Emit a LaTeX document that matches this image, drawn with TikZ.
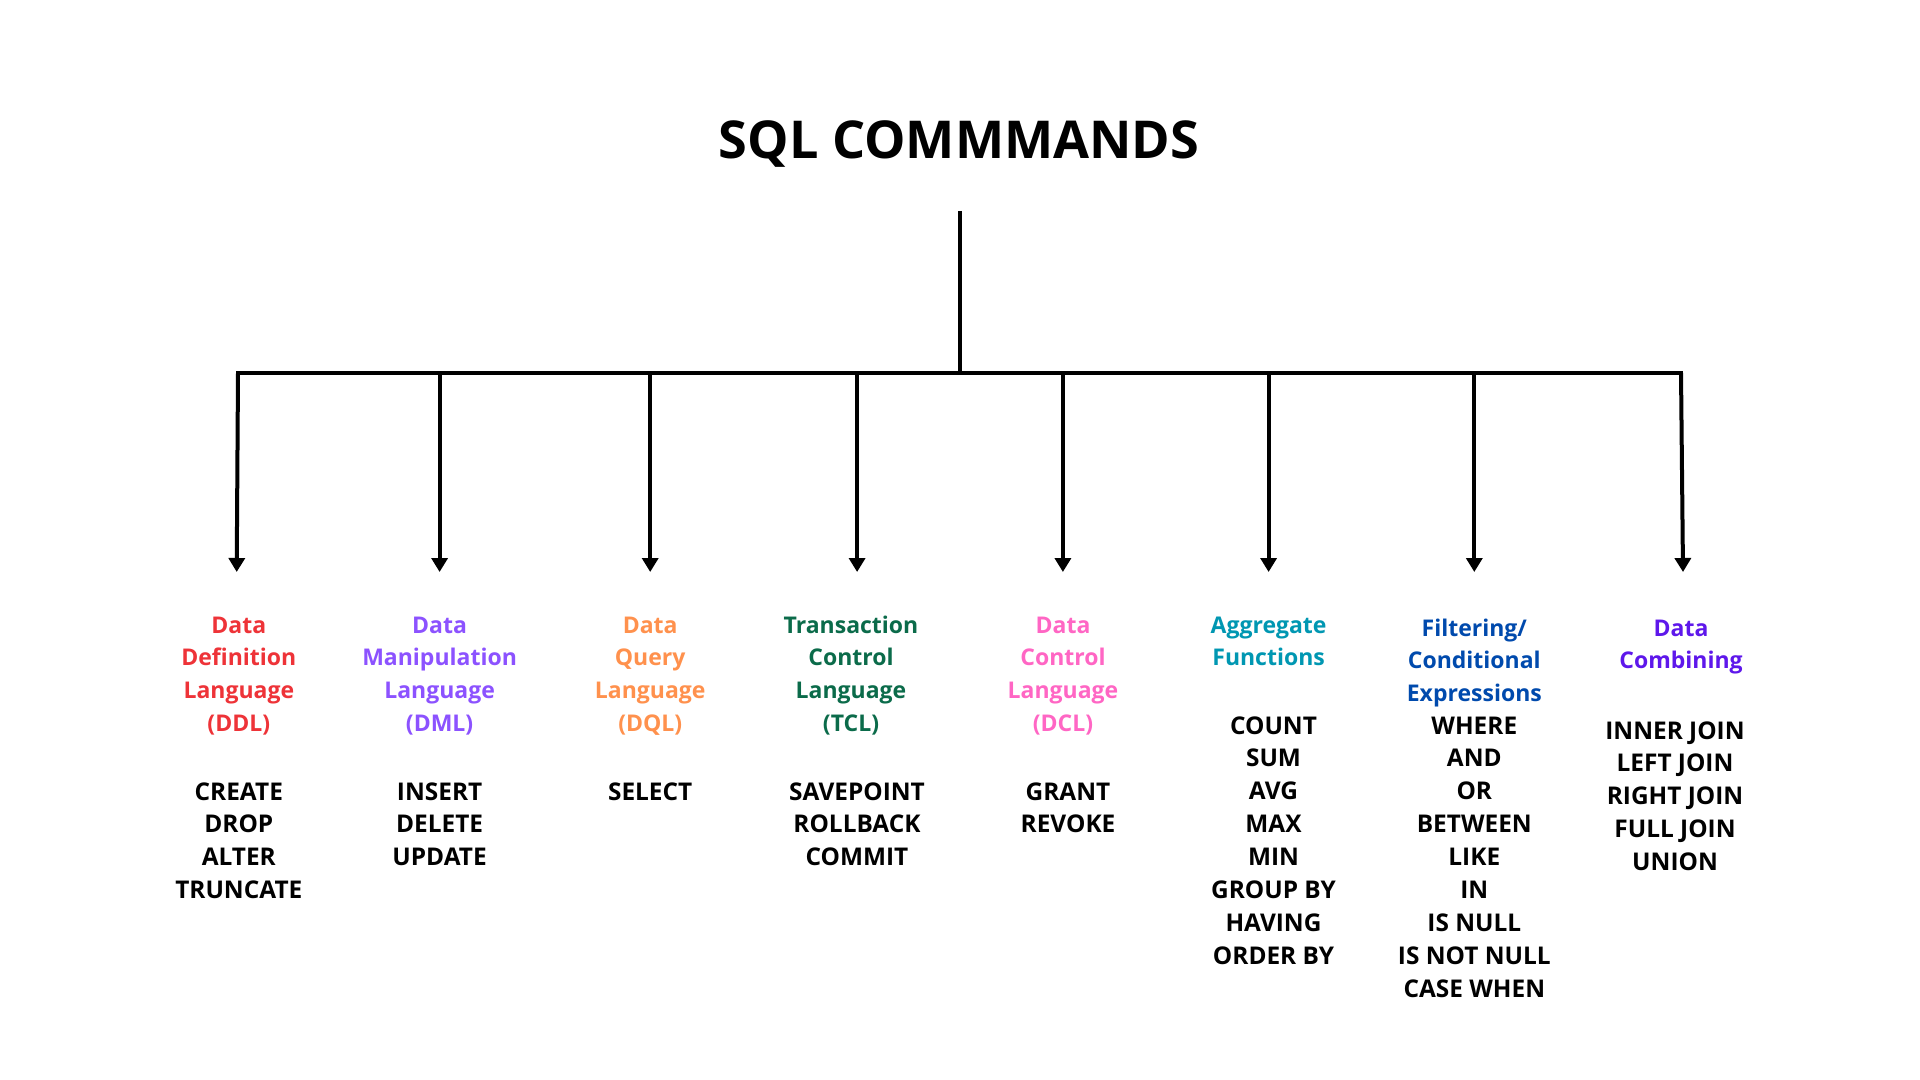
\documentclass[tikz,border=0pt]{standalone}
\usepackage{fontspec}
\setmainfont{Open Sans}
\usetikzlibrary{arrows.meta}
\definecolor{ddlc}{HTML}{EE3338}
\definecolor{dmlc}{HTML}{8C52FF}
\definecolor{dqlc}{HTML}{FF914D}
\definecolor{tclc}{HTML}{0B6B4A}
\definecolor{dclc}{HTML}{FF66C4}
\definecolor{aggc}{HTML}{0097B2}
\definecolor{filc}{HTML}{004AAD}
\definecolor{cmbc}{HTML}{5E17EB}
\tikzset{
  wire/.style={line width=2pt, draw=black},
  arr/.style={wire, -{Triangle[width=8pt,length=7pt]}},
  titlesty/.style={font=\fontsize{26.1}{30}\selectfont\bfseries, anchor=base, inner sep=0pt},
  headsty/.style={font=\fontsize{11.5}{13}\selectfont\bfseries, anchor=base, inner sep=0pt},
  itemsty/.style={font=\fontsize{12.2}{14}\selectfont\bfseries, anchor=base, inner sep=0pt, text=black}
}
\newcommand\mycol[5]{%
  \foreach \t [count=\i] in {#5} \node[#4] (#1-\i) at (#2, {#3+32.9*(\i-1)}) {\t};}
\begin{document}
\begin{tikzpicture}[x=0.5pt,y=-0.5pt]
\useasboundingbox[fill=white] (0,0) rectangle (1920,1080);
\node[titlesty] (title) at (959,159) {SQL COMMMANDS};
\coordinate (top) at (960,211);
\coordinate (hub) at (960,373);
\coordinate (bl) at (238,373);
\coordinate (br) at (1681,373);
\draw[wire] (top) -- (hub);
\draw[wire, line cap=rect] (bl) -- (br);
\foreach \i/\xa/\xb in {1/238/236.7, 2/439.6/439.6, 3/650.2/650.2, 4/857.1/857.1, 5/1062.9/1062.9, 6/1268.6/1268.6, 7/1474.3/1474.3, 8/1681/1683}{
  \coordinate (b\i) at (\xa,373);
  \coordinate (e\i) at (\xb,572);
  \draw[arr] (b\i) -- (e\i);
}
% headings
\mycol{hddl}{238.8}{633}{headsty, text=ddlc}{Data,Definition,Language,(DDL)}
\mycol{hdml}{439.6}{633}{headsty, text=dmlc}{Data,Manipulation,Language,(DML)}
\mycol{hdql}{650.2}{633}{headsty, text=dqlc}{Data,Query,Language,(DQL)}
\mycol{htcl}{851}{633}{headsty, text=tclc}{Transaction,Control,Language,(TCL)}
\mycol{hdcl}{1063}{633}{headsty, text=dclc}{Data,Control,Language,(DCL)}
\mycol{hagg}{1268.6}{633}{headsty, text=aggc}{Aggregate,Functions}
\mycol{hfil}{1474.3}{636}{headsty, text=filc}{{Filtering/},Conditional,Expressions}
\mycol{hcmb}{1681}{636}{headsty, text=cmbc}{Data,Combining}
% items
\mycol{iddl}{238.8}{800}{itemsty}{CREATE,DROP,ALTER,TRUNCATE}
\mycol{idml}{439.6}{800}{itemsty}{INSERT,DELETE,UPDATE}
\mycol{idql}{650.2}{800}{itemsty}{SELECT}
\mycol{itcl}{857}{800}{itemsty}{SAVEPOINT,ROLLBACK,COMMIT}
\mycol{idcl}{1068}{800}{itemsty}{GRANT,REVOKE}
\mycol{iagg}{1273.5}{734}{itemsty}{COUNT,SUM,AVG,MAX,MIN,GROUP BY,HAVING,ORDER BY}
\mycol{ifil}{1474.3}{734}{itemsty}{WHERE,AND,OR,BETWEEN,LIKE,IN,IS NULL,IS NOT NULL,CASE WHEN}
\mycol{icmb}{1675}{739}{itemsty}{INNER JOIN,LEFT JOIN,RIGHT JOIN,FULL JOIN,UNION}
\end{tikzpicture}
\end{document}
